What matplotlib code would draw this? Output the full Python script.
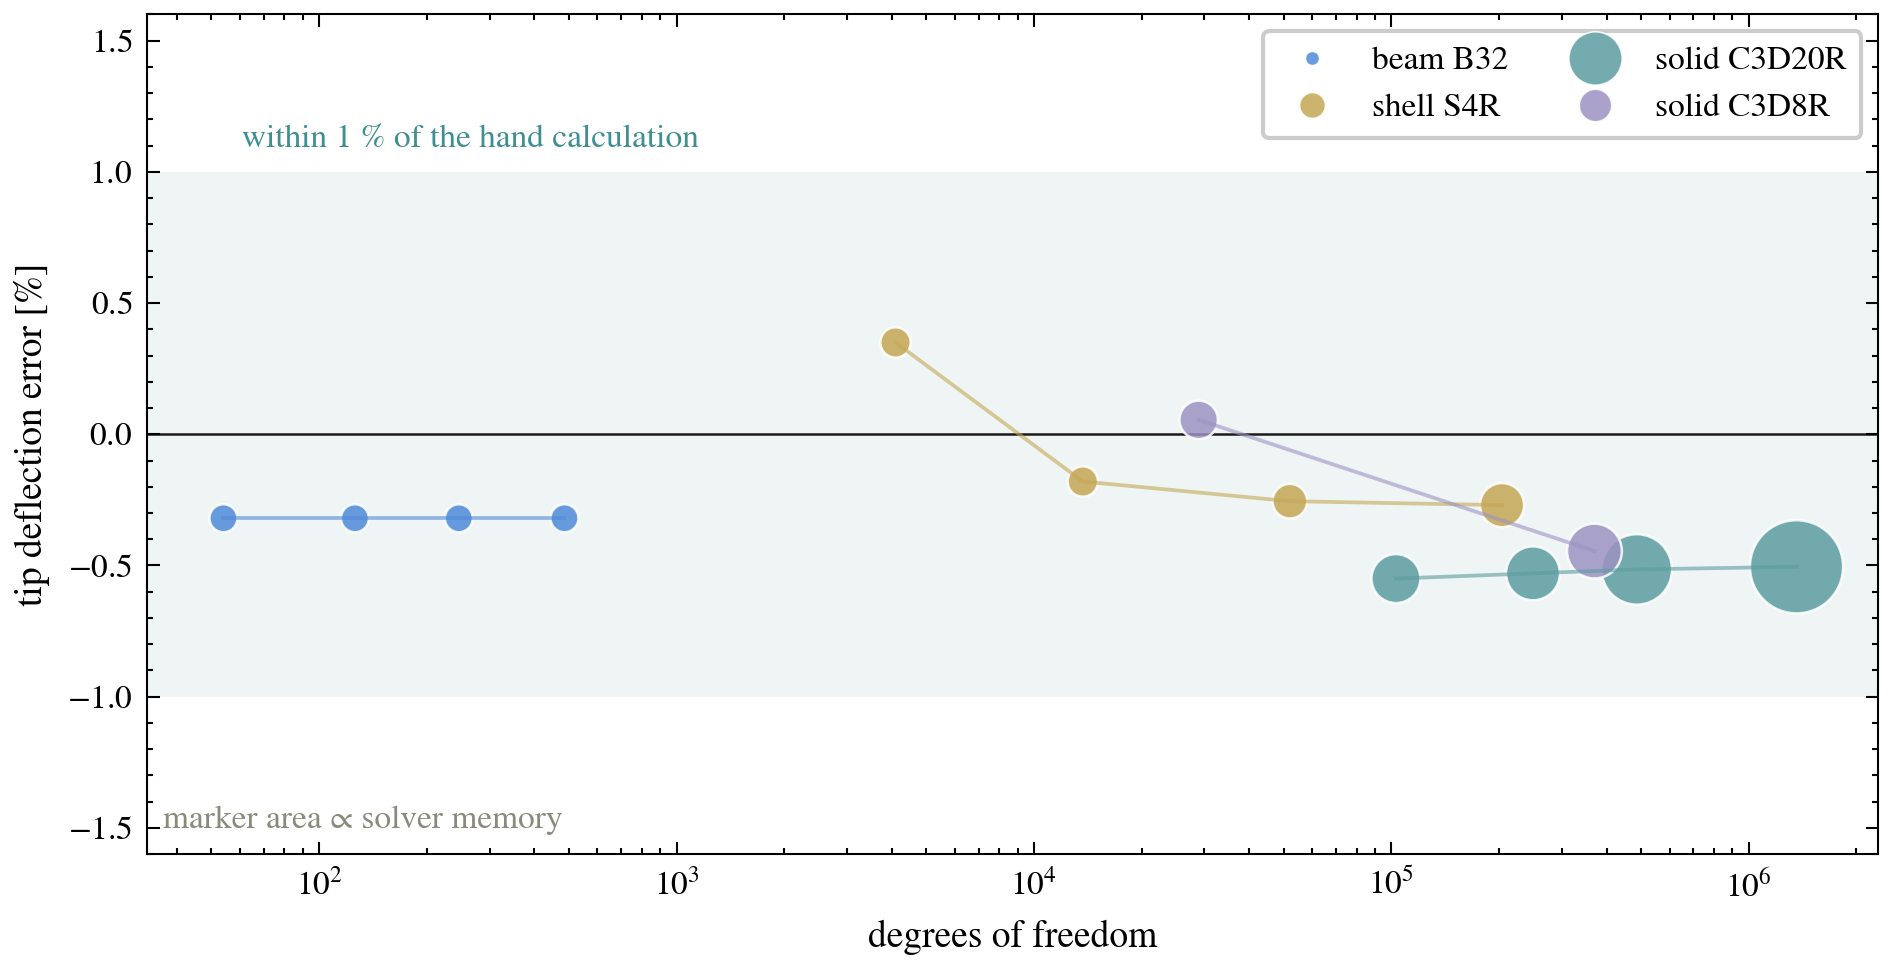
import matplotlib
matplotlib.use("Agg")
import matplotlib.pyplot as plt
from matplotlib.lines import Line2D
import numpy as np

# data
beam_dof = [54, 126, 246, 486]
beam_err = [-0.32, -0.32, -0.32, -0.32]
beam_mem = [45, 45, 45, 45]

shell_dof = [4100, 13700, 52000, 204000]
shell_err = [0.35, -0.18, -0.255, -0.27]
shell_mem = [53, 53, 69, 112]

c3d8_dof = [28900, 370000]
c3d8_err = [0.055, -0.445]
c3d8_mem = [85, 173]

c3d20_dof = [103000, 249000, 486000, 1360000]
c3d20_err = [-0.55, -0.53, -0.515, -0.505]
c3d20_mem = [138, 167, 286, 500]

labels = ["beam B32", "shell S4R", "solid C3D20R", "solid C3D8R"]
colors = {"beam B32": "#4f8ad9", "shell S4R": "#c4a755",
          "solid C3D20R": "#5c9ca0", "solid C3D8R": "#9c92c2"}

plt.rcParams['font.family'] = ['STIXGeneral', 'DejaVu Serif']
plt.rcParams['font.size'] = 8
plt.rcParams['mathtext.fontset'] = 'stix'
plt.rcParams['axes.formatter.use_mathtext'] = True
plt.rcParams['xtick.direction'] = 'in'
plt.rcParams['ytick.direction'] = 'in'
plt.rcParams['xtick.top'] = True
plt.rcParams['ytick.right'] = True
plt.rcParams['xtick.minor.visible'] = True
plt.rcParams['ytick.minor.visible'] = True
plt.rcParams['xtick.major.size'] = 3
plt.rcParams['ytick.major.size'] = 3
plt.rcParams['xtick.minor.size'] = 1.5
plt.rcParams['ytick.minor.size'] = 1.5
plt.rcParams['xtick.major.width'] = 0.5
plt.rcParams['ytick.major.width'] = 0.5
plt.rcParams['xtick.minor.width'] = 0.5
plt.rcParams['ytick.minor.width'] = 0.5
plt.rcParams['axes.linewidth'] = 0.5

fig = plt.figure(figsize=(1894/300, 964/300), dpi=300)
ax = fig.add_axes([0.0776, 0.114, 0.914, 0.871])

ax.axhspan(-1, 1, color='#eff5f5', zorder=0, lw=0)
ax.axhline(0, color='#1a1a1a', lw=0.6, zorder=1)

series = [(beam_dof, beam_err, beam_mem, "beam B32"),
          (shell_dof, shell_err, shell_mem, "shell S4R"),
          (c3d20_dof, c3d20_err, c3d20_mem, "solid C3D20R"),
          (c3d8_dof, c3d8_err, c3d8_mem, "solid C3D8R")]

for dof, err, mem, name in series:
    c = colors[name]
    ax.scatter(dof, err, s=mem, color=c, alpha=0.85, edgecolors='white',
               linewidths=0.6, zorder=3)
    ax.plot(dof, err, color=c, lw=0.9, alpha=0.6, zorder=4)

ax.set_xscale('log')
ax.set_xlim(33, 2.3e6)
ax.set_ylim(-1.6, 1.6)
ax.set_yticks([-1.5, -1.0, -0.5, 0.0, 0.5, 1.0, 1.5])
ax.set_xlabel("degrees of freedom", fontsize=9)
ax.set_ylabel("tip deflection error [%]", fontsize=9)

ax.text(0.055, 0.851, "within 1 % of the hand calculation", transform=ax.transAxes,
        color='#3f8f91', fontsize=8, ha='left', va='center')
ax.text(0.009, 0.04, "marker area \u221d solver memory", transform=ax.transAxes,
        color='#8a8a7c', fontsize=8, ha='left', va='center')

leg_sizes = {"beam B32": 3.4, "shell S4R": 6.2, "solid C3D20R": 12.8, "solid C3D8R": 7.8}
handles = [Line2D([], [], ls='none', marker='o', color=colors[n], alpha=0.85,
                  markeredgecolor='white', markeredgewidth=0.4,
                  markersize=leg_sizes[n], label=n) for n in labels]
ax.legend(handles=handles, loc='upper right', ncol=2, frameon=True,
          edgecolor='#cccccc', framealpha=1.0, fancybox=True,
          columnspacing=1.6, handletextpad=0.8, borderpad=0.45)

fig.savefig("out.png", dpi=300)
